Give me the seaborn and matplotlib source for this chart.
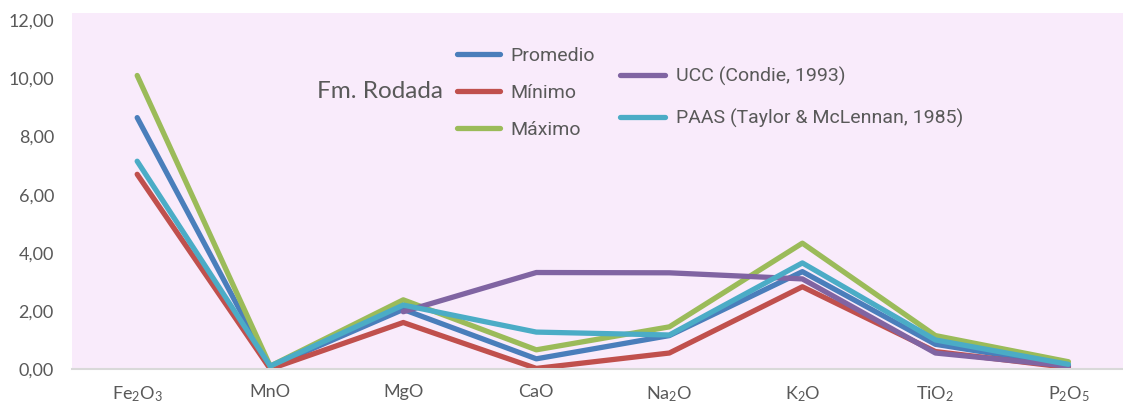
import numpy as np
import pandas as pd
import matplotlib
matplotlib.use("Agg")
import matplotlib.pyplot as plt
import seaborn as sns

# Oxide categories (mathtext for subscripts)
oxides = [r"Fe$_2$O$_3$", "MnO", "MgO", "CaO", r"Na$_2$O", r"K$_2$O", r"TiO$_2$", r"P$_2$O$_5$"]

# Major-element concentrations (wt %)
promedio = [8.65, 0.07, 2.05, 0.35, 1.15, 3.35, 0.85, 0.12]
minimo   = [6.70, 0.00, 1.60, 0.02, 0.55, 2.83, 0.60, 0.05]
maximo   = [10.10, 0.10, 2.38, 0.66, 1.45, 4.33, 1.15, 0.25]
ucc      = [np.nan, np.nan, 1.97, 3.32, 3.31, 3.10, 0.55, 0.10]
paas     = [7.15, 0.10, 2.20, 1.27, 1.17, 3.65, 1.00, 0.16]

series_names = ["Promedio", "Mínimo", "Máximo", "UCC (Condie, 1993)",
                "PAAS (Taylor & McLennan, 1985)"]
series_vals = [promedio, minimo, maximo, ucc, paas]
colors = ["#4A7EBB", "#C0504D", "#9BBB59", "#8064A2", "#4BACC6"]

rows = []
for name, vals in zip(series_names, series_vals):
    for i, v in enumerate(vals):
        rows.append({"pos": i, "valor": v, "serie": name})
df = pd.DataFrame(rows).dropna()

sns.set_style("white")
plt.rcParams["font.family"] = ["Lato", "DejaVu Sans"]
plt.rcParams["mathtext.fontset"] = "custom"
plt.rcParams["mathtext.rm"] = "Lato"
plt.rcParams["mathtext.it"] = "Lato"
plt.rcParams["mathtext.default"] = "regular"

text_gray = "#595959"

fig = plt.figure(figsize=(11.23, 4.07), dpi=100)
ax = fig.add_axes([72 / 1123, 1 - 369 / 407, 1 - 72 / 1123, (369 - 13) / 407])
ax.set_facecolor("#F9EBFB")

sns.lineplot(data=df, x="pos", y="valor", hue="serie", hue_order=series_names,
             palette=colors, linewidth=3.8, sort=False, ax=ax, legend=False)

ax.set_xlim(-0.49, 7.41)
ax.set_ylim(0, 12.25)
ax.set_xticks(range(len(oxides)))
ax.set_xticklabels(oxides)
yt = np.arange(0, 13, 2)
ax.set_yticks(yt)
ax.set_yticklabels([f"{v:.2f}".replace(".", ",") for v in yt])
ax.tick_params(axis="both", length=0, labelsize=13, labelcolor=text_gray)
ax.tick_params(axis="x", pad=11)
ax.tick_params(axis="y", pad=13)
ax.set_xlabel("")
ax.set_ylabel("")
for s in ["top", "right", "left"]:
    ax.spines[s].set_visible(False)
ax.spines["bottom"].set_color("#D9D9D9")
ax.spines["bottom"].set_linewidth(1.5)

lines = ax.get_lines()
handles = {name: ln for name, ln in zip(series_names, lines)}

leg_font = {"family": ["Roboto", "DejaVu Sans"], "size": 14}
leg1 = ax.legend([handles[n] for n in series_names[:3]], series_names[:3],
                 loc="center left", bbox_to_anchor=(457 / 1123, 1 - 93 / 407),
                 bbox_transform=fig.transFigure, frameon=False, prop=leg_font,
                 handlelength=2.2, handletextpad=0.55, labelspacing=0.97,
                 borderpad=0, borderaxespad=0, labelcolor=text_gray)
ax.add_artist(leg1)
leg2 = ax.legend([handles[n] for n in series_names[3:]], series_names[3:],
                 loc="center left", bbox_to_anchor=(620 / 1123, 1 - 97.5 / 407),
                 bbox_transform=fig.transFigure, frameon=False, prop=leg_font,
                 handlelength=2.3, handletextpad=0.6, labelspacing=1.2,
                 borderpad=0, borderaxespad=0, labelcolor=text_gray)

fig.text(317 / 1123, 1 - 92 / 407, "Fm. Rodada", fontsize=17.5, color=text_gray,
         va="center", ha="left")

fig.savefig("out.png", dpi=100)
